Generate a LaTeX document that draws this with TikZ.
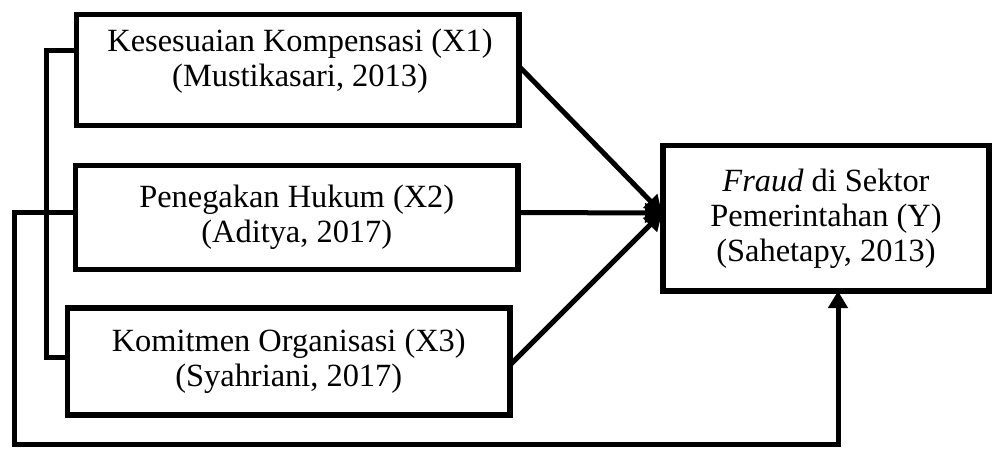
\documentclass[tikz,border=0pt]{standalone}
\usepackage{fontspec}
\setmainfont{Liberation Serif}
\usetikzlibrary{arrows.meta}
\begin{document}
\begin{tikzpicture}[x=1pt,y=-1pt,
  box/.style={draw,line width=5.5pt,rectangle,inner sep=0pt,outer sep=0pt,align=center,
    font=\fontsize{32.4}{35}\selectfont},
  conn/.style={line width=5pt},
  arr/.style={conn,-{Triangle[width=19pt,length=17pt]}}]
\useasboundingbox (0,0) rectangle (992,448);
\node[box,minimum width=442.5pt,minimum height=111pt] (X1) at (297.5,70) {};
\node[align=center,font=\fontsize{32.4}{35}\selectfont,inner sep=0pt] (T1) at (300,61)
  {Kesesuaian Kompensasi (X1)\\(Mustikasari, 2013)};
\node[box,minimum width=442.5pt,minimum height=104pt] (X2) at (296.75,217.5)
  {Penegakan Hukum (X2)\\(Aditya, 2017)};
\node[box,minimum width=442.5pt,minimum height=107pt] (X3) at (288.75,361.5)
  {Komitmen Organisasi (X3)\\(Syahriani, 2017)};
\node[box,minimum width=326pt,minimum height=145.5pt] (Y) at (826,218.25)
  {\textit{Fraud} di Sektor\\Pemerintahan (Y)\\(Sahetapy, 2013)};
\coordinate (tip) at (662,213);
\coordinate (c1) at (14.5,444.5);
\draw[arr] ([yshift=4pt]X1.east) -- (tip);
\draw[arr] ([yshift=5pt]X2.east) -- (tip);
\draw[arr] ([yshift=-3.5pt]X3.east) -- (tip);
\draw[conn] ([yshift=19.5pt]X1.west) -- ++(-30,0) |- ([yshift=4pt]X3.west);
\draw[arr] ([yshift=5pt]X2.west) -| (c1) -| ([xshift=12pt]Y.south);
\end{tikzpicture}
\end{document}
